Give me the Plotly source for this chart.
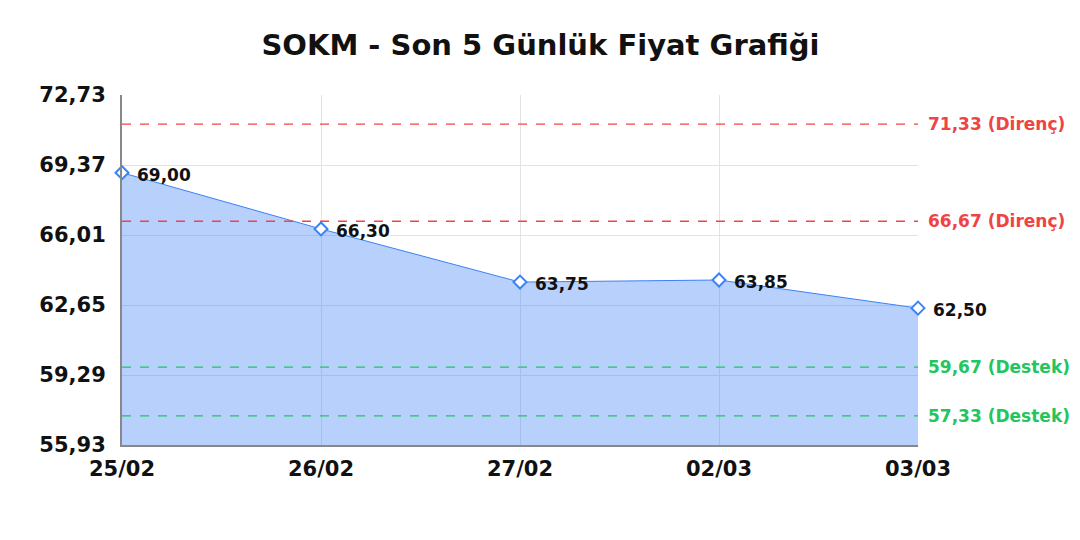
import plotly.graph_objects as go

# price data for the last 5 days
dates = ['25/02', '26/02', '27/02', '02/03', '03/03']
prices = [69.00, 66.30, 63.75, 63.85, 62.50]

# y axis ticks
y_ticks = [55.93, 59.29, 62.65, 66.01, 69.37, 72.73]

# support / resistance levels
resistance = [71.33, 66.67]
support = [59.67, 57.33]

RED = '#ef4444'
GREEN = '#22c55e'
BLUE = '#3b82f6'
FONT = 'DejaVu Sans'


def fmt(v):
    return f'{v:.2f}'.replace('.', ',')


fig = go.Figure()

fig.add_trace(go.Scatter(
    x=dates,
    y=prices,
    mode='lines+markers',
    fill='tozeroy',
    fillcolor='rgba(59, 130, 246, 0.37)',
    line=dict(color=BLUE, width=1),
    marker=dict(symbol='diamond', size=10, color='white', line=dict(width=2, color=BLUE)),
    cliponaxis=False,
    showlegend=False,
))

# value labels next to each point
for d, p in zip(dates, prices):
    fig.add_annotation(
        x=d, y=p, text=fmt(p), showarrow=False,
        xanchor='left', xshift=13, yshift=-2,
        font=dict(family=FONT, size=17, color='#111111', weight='bold'),
    )

# horizontal level lines with labels on the right
def add_level(value, label, color):
    fig.add_hline(y=value, line=dict(color=color, width=1.3, dash='dash'))
    fig.add_annotation(
        x=1, xref='paper', y=value, yref='y',
        text=f'{fmt(value)} ({label})',
        showarrow=False, xanchor='left', xshift=8,
        font=dict(family=FONT, size=17, color=color, weight='bold'),
    )

for r in resistance:
    add_level(r, 'Direnç', RED)
for s in support:
    add_level(s, 'Destek', GREEN)

fig.update_layout(
    width=1080,
    height=540,
    separators=',.',
    title=dict(
        text='<b>SOKM - Son 5 Günlük Fiyat Grafiği</b>',
        x=0.493, xref='container', xanchor='center',
        y=0.931, yref='container', yanchor='middle',
        font=dict(family=FONT, size=29, color='#111111'),
    ),
    margin=dict(l=114, r=170, t=87, b=103),
    paper_bgcolor='white',
    plot_bgcolor='white',
    font=dict(family=FONT),
    xaxis=dict(
        type='category',
        range=[0, len(dates) - 1],
        showgrid=True,
        gridcolor='#e3e3e3',
        showline=True,
        linecolor='#888888',
        linewidth=2,
        ticks='',
        ticklabelstandoff=4,
        tickfont=dict(family=FONT, size=21, color='#111111', weight='bold'),
    ),
    yaxis=dict(
        range=[y_ticks[0], y_ticks[-1]],
        tickvals=y_ticks,
        ticktext=[fmt(v) for v in y_ticks],
        showgrid=True,
        gridcolor='#e3e3e3',
        zeroline=False,
        showline=True,
        linecolor='#888888',
        linewidth=2,
        ticks='',
        ticklabelstandoff=10,
        tickfont=dict(family=FONT, size=21, color='#111111', weight='bold'),
    ),
)

fig.write_html('out.html')
